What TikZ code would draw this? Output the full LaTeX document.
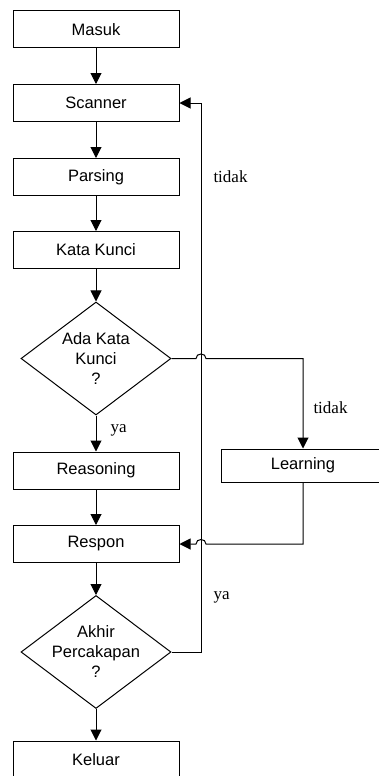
\documentclass[tikz,border=0pt]{standalone}
\usepackage{fontspec}
\setmainfont{Liberation Serif}
\setsansfont{Liberation Sans}
\usetikzlibrary{arrows.meta,shapes.geometric}
\begin{document}
\begin{tikzpicture}[x=1pt,y=-1pt,
  line width=1pt,
  box/.style={draw, rectangle, minimum width=166pt, minimum height=37pt, inner sep=0pt,
    font=\sffamily\fontsize{16.5}{20}\selectfont},
  dmd/.style={draw, diamond, minimum width=150pt, minimum height=113pt, inner sep=0pt},
  dtext/.style={align=center, font=\sffamily\fontsize{16.5}{20}\selectfont},
  lbl/.style={font=\fontsize{17}{20}\selectfont, anchor=west, inner sep=0pt},
  flow/.style={-{Triangle[length=11pt,width=11pt]}},
]
\clip (0,0) rectangle (379,776);
\fill[white] (0,0) rectangle (379,776);

% main column
\node[box] (masuk)  at (96,29.5)  {Masuk};
\node[box] (scan)   at (96,103)   {Scanner};
\node[box] (parse)  at (96,177)   {Parsing};
\node[box] (kunci)  at (96,250)   {Kata Kunci};
\node[dmd, label={[dtext]center:Ada Kata\\Kunci\\?}] (ada) at (96,358.5) {};
\node[box] (reason) at (96,470.5) {Reasoning};
\node[box] (respon) at (96,544)   {Respon};
\node[dmd, label={[dtext]center:Akhir\\Percakapan\\?}] (akhir) at (96,652) {};
\node[box] (keluar) at (96,759.5) {Keluar};

% side branch
\node[box, minimum width=164pt, minimum height=33pt] (learn) at (303,465.5) {Learning};

% straight flow
\draw[flow] (masuk) -- (scan);
\draw[flow] (scan) -- (parse);
\draw[flow] (parse) -- (kunci);
\draw[flow] (kunci) -- (ada);
\draw[flow] (ada) -- (reason);
\draw[flow] (reason) -- (respon);
\draw[flow] (respon) -- (akhir);
\draw[flow] (akhir) -- (keluar);

% loop back to the scanner
\coordinate (loopB) at (201,652);
\coordinate (loopT) at (201,103);
\draw[flow] (akhir.east) -- (loopB) -- (loopT) -- (scan.east);

% keyword missing: go to learning, hopping over the loop line
\coordinate (hopA) at (196,358.5);
\coordinate (hopB) at (206,358.5);
\coordinate (turnA) at (303,358.5);
\draw[flow] (ada.east) -- (hopA) .. controls (196,352.5) and (206,352.5) .. (hopB)
  -- (turnA) -- (learn.north);

% learning back to respon, hopping over the loop line
\coordinate (turnB) at (303,544);
\coordinate (hopC) at (206,544);
\coordinate (hopD) at (196,544);
\draw[flow] (learn.south) -- (turnB) -- (hopC) .. controls (206,538) and (196,538) .. (hopD)
  -- (respon.east);

% branch labels
\node[lbl] (t1) at (213,177) {tidak};
\node[lbl] (t2) at (313,408) {tidak};
\node[lbl] (y1) at (110,430) {ya};
\node[lbl] (y2) at (213,597) {ya};
\end{tikzpicture}
\end{document}
